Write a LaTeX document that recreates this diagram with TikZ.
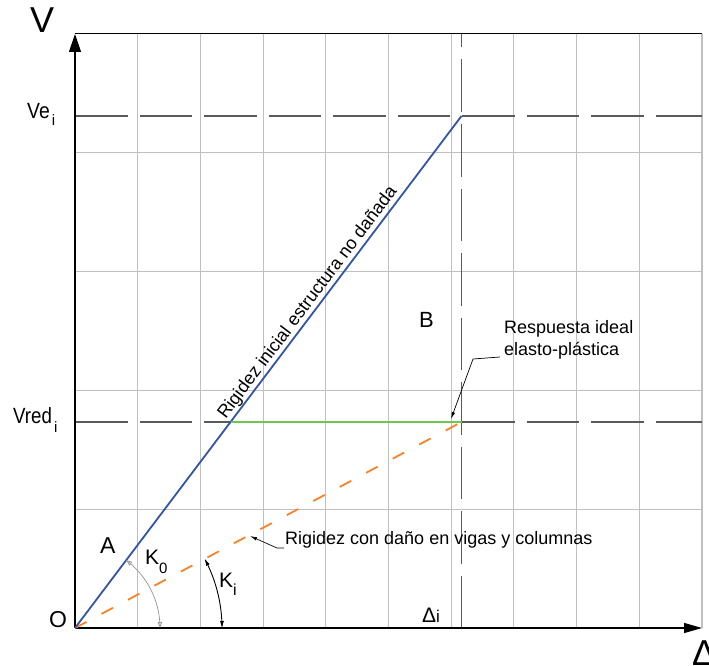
\documentclass[tikz,border=0pt]{standalone}
\usepackage{fontspec}
\setmainfont{Liberation Sans}
\usetikzlibrary{arrows.meta}
\definecolor{cblue}{RGB}{52,84,168}
\definecolor{cgreen}{RGB}{110,200,80}
\definecolor{corange}{RGB}{250,130,40}
\definecolor{cgrid}{RGB}{192,192,192}
\definecolor{cref}{RGB}{90,90,90}
\definecolor{carc}{RGB}{150,150,150}
\begin{document}
\begin{tikzpicture}[x=1pt,y=-1pt,
  gridline/.style={cgrid, line width=1.1pt},
  refline/.style={cref, line width=1.4pt, dash pattern=on 52.5pt off 12pt},
  axisline/.style={black, line width=1.2pt},
  lbl/.style={inner sep=0pt, anchor=base west},
  leader/.style={black, line width=0.7pt, -{Latex[length=7pt,width=3.5pt]}},
  sz/.style={font=\fontsize{#1}{#1}\selectfont}]
\useasboundingbox (0,0) rectangle (709,666);
\fill[white] (0,0) rectangle (709,666);
% key points
\coordinate (O) at (75,628);
\coordinate (T) at (75,34);
\coordinate (R) at (702,628);
\coordinate (TR) at (702,34);
\coordinate (E) at (461.5,116);
\coordinate (Y) at (461.5,422);
\coordinate (P) at (230.5,422);
% grid
\foreach \i in {1,...,10} \draw[gridline] ({75+62.7*\i},34) -- ({75+62.7*\i},628);
\foreach \j in {1,...,4} \draw[gridline] (75,{34+118.8*\j}) -- (702,{34+118.8*\j});
\draw[black, line width=1pt] (T) -- (TR);
% reference dashed lines
\draw[refline] (75,116) -- (702,116);
\draw[refline] (75,422) -- (702,422);
\draw[refline] (461.5,628) -- (461.5,34);
% axes
\draw[axisline, -{Triangle[length=18pt,width=12pt]}] (O) -- (T);
\draw[axisline, -{Triangle[length=18pt,width=10pt]}] (O) -- (R);
% curves
\draw[corange, line width=1.8pt, dash pattern=on 13pt off 17pt] (O) -- (Y);
\draw[cblue, line width=1.8pt] (O) -- (E);
\draw[cgreen, line width=1.8pt] (P) -- (Y);
% angle arcs
\draw[carc, line width=0.7pt, {Triangle[open,length=6pt,width=4.5pt]}-{Triangle[open,length=6pt,width=4.5pt]}]
  plot[domain=53:0, samples=50] ({75+85*cos(\x)},{628-85*sin(\x)});
\draw[black, line width=0.9pt, {Latex[length=7pt,width=4pt]}-{Latex[length=7pt,width=4pt]}]
  plot[domain=28.1:0, samples=50] ({75+147*cos(\x)},{628-147*sin(\x)});
% labels
\node[lbl, sz=36] (Vlab) at (30,33) {V};
\node[lbl, sz=22] (Velab) at (27,118) {\scalebox{0.88}[1]{Ve}\kern2pt\raisebox{-7pt}{\fontsize{15}{15}\selectfont i}};
\node[lbl, sz=22] (Vredlab) at (13,423) {\scalebox{0.85}[1]{Vred}\kern2pt\raisebox{-9pt}{\fontsize{15}{15}\selectfont i}};
\node[lbl, sz=23] (Olab) at (49,627) {O};
\node[lbl, sz=23] (Alab) at (100,553) {A};
\node[lbl, sz=21] (K0lab) at (145,564) {K\raisebox{-9pt}{\fontsize{15}{15}\selectfont 0}};
\node[lbl, sz=21] (Kilab) at (219,587) {K\raisebox{-8pt}{\fontsize{16}{16}\selectfont i}};
\node[lbl, sz=22] (Blab) at (419,327) {B};
\node[lbl, sz=21] (Dilab) at (422,622) {Δ{\fontsize{17}{17}\selectfont i}};
\node[lbl, sz=36] (Dlab) at (692,665) {Δ};
\node[lbl, sz=18] (resp1) at (504,333) {Respuesta ideal};
\node[lbl, sz=18] (resp2) at (504,355) {elasto-plástica};
\node[lbl, sz=18] (dano) at (285,544) {Rigidez con daño en vigas y columnas};
\node[inner sep=0pt, sz=18, rotate=53] (rig) at (308,303) {Rigidez inicial estructura no dañada};
% leaders
\coordinate (rs) at (500,357);
\coordinate (rk) at (473,359);
\coordinate (rt) at (451,419);
\draw[leader] (rs) -- (rk) -- (rt);
\coordinate (ds) at (284,548);
\coordinate (dk) at (277,548);
\coordinate (dt) at (250,536);
\draw[leader] (ds) -- (dk) -- (dt);
\end{tikzpicture}
\end{document}
